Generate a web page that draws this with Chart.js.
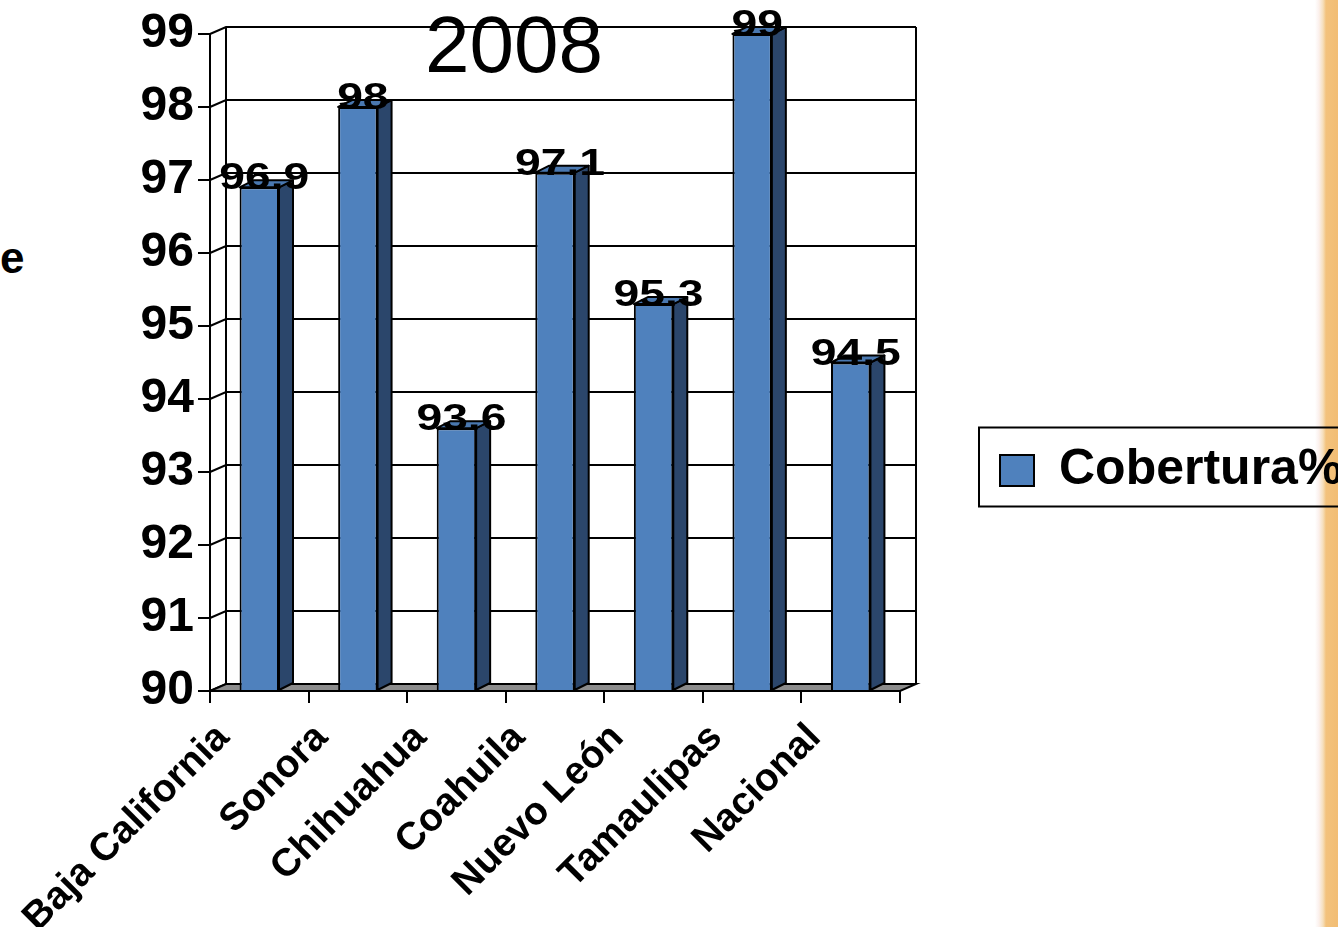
<!DOCTYPE html>
<html>
<head>
<meta charset="utf-8">
<script src="https://cdn.jsdelivr.net/npm/chart.js@4.4.0/dist/chart.umd.min.js"></script>
<style>
  html, body {
    margin: 0; padding: 0; width: 1338px; height: 927px; overflow: hidden;
    background: linear-gradient(to right, #fff 0, #fff 1315px, #fbf0ec 1319px, #f6dfbb 1323px, #f3c27c 1326px, #f2bd74 1338px);
  }
  #c { position: absolute; left: 0; top: 0; }
  #side { position: absolute; left: 0; top: 233px; line-height: 44px; font: bold 44px "Liberation Sans", Arial, sans-serif; }
</style>
</head>
<body>
<div id="side">e</div>
<canvas id="c" width="1338" height="927"></canvas>
<script>
// datos
const categories = ['Baja California', 'Sonora', 'Chihuahua', 'Coahuila', 'Nuevo León', 'Tamaulipas', 'Nacional'];
const cobertura = [96.9, 98, 93.6, 97.1, 95.3, 99, 94.5];
const seriesName = 'Cobertura%';
const chartTitle = '2008';
const yMin = 90;
const yMax = 99;

const family = '"Liberation Sans", Arial, Helvetica, sans-serif';
const WALL = { dx: 16, dy: -7 };   // profundidad de la pared/piso
const BAR = { dx: 14, dy: -7 };    // profundidad de las barras

// dibuja pared de fondo, piso, caras 3D de las barras y etiquetas
const fake3d = {
    id: 'fake3d',
    beforeDatasetsDraw(chart) {
        const { ctx, chartArea: a, scales: { y } } = chart;
        ctx.save();
        // titulo (queda detrás de la rejilla)
        ctx.font = `80px ${family}`;
        ctx.fillStyle = '#000';
        ctx.textAlign = 'center';
        ctx.textBaseline = 'alphabetic';
        ctx.fillText(chartTitle, 514, 72);

        ctx.strokeStyle = '#000';
        ctx.lineWidth = 2;
        ctx.beginPath();
        y.ticks.forEach(t => {
            const py = y.getPixelForValue(t.value);
            ctx.moveTo(a.left, py);
            ctx.lineTo(a.left + WALL.dx, py + WALL.dy);
            ctx.lineTo(a.right + WALL.dx, py + WALL.dy);
        });
        ctx.moveTo(a.left + WALL.dx, a.top + WALL.dy);
        ctx.lineTo(a.left + WALL.dx, a.bottom + WALL.dy);
        ctx.moveTo(a.right + WALL.dx, a.top + WALL.dy);
        ctx.lineTo(a.right + WALL.dx, a.bottom + WALL.dy);
        ctx.stroke();

        // piso
        ctx.beginPath();
        ctx.moveTo(a.left, a.bottom);
        ctx.lineTo(a.right, a.bottom);
        ctx.lineTo(a.right + WALL.dx, a.bottom + WALL.dy);
        ctx.lineTo(a.left + WALL.dx, a.bottom + WALL.dy);
        ctx.closePath();
        ctx.fillStyle = '#8c8c8c';
        ctx.fill();
        ctx.stroke();
        ctx.restore();
    },
    afterDatasetsDraw(chart) {
        const { ctx } = chart;
        const meta = chart.getDatasetMeta(0);
        ctx.save();
        ctx.strokeStyle = '#000';
        ctx.lineWidth = 2;
        ctx.lineJoin = 'round';
        meta.data.forEach(bar => {
            const { x, y, width, base } = bar.getProps(['x', 'y', 'width', 'base'], true);
            const l = x - width / 2, r = x + width / 2;
            // lado
            ctx.beginPath();
            ctx.moveTo(r, y);
            ctx.lineTo(r + BAR.dx, y + BAR.dy);
            ctx.lineTo(r + BAR.dx, base + BAR.dy);
            ctx.lineTo(r, base);
            ctx.closePath();
            ctx.fillStyle = '#2b466b';
            ctx.fill();
            ctx.stroke();
            // tapa
            ctx.beginPath();
            ctx.moveTo(l, y);
            ctx.lineTo(l + BAR.dx, y + BAR.dy);
            ctx.lineTo(r + BAR.dx, y + BAR.dy);
            ctx.lineTo(r, y);
            ctx.closePath();
            ctx.fillStyle = '#4a78b0';
            ctx.fill();
            ctx.stroke();
        });
        // etiquetas de valor
        ctx.font = `bold 37px ${family}`;
        ctx.fillStyle = '#000';
        ctx.textAlign = 'center';
        ctx.textBaseline = 'alphabetic';
        meta.data.forEach((bar, i) => {
            const { x, y } = bar.getProps(['x', 'y'], true);
            ctx.save();
            ctx.translate(x + 5, y + 2);
            ctx.scale(1.25, 1);
            ctx.fillText(String(cobertura[i]), 0, 0);
            ctx.restore();
        });
        ctx.restore();
    },
    afterDraw(chart) {
        // marco de la leyenda
        const hb = chart.legend.legendHitBoxes[0];
        if (!hb) return;
        const { ctx } = chart;
        ctx.save();
        ctx.strokeStyle = '#000';
        ctx.lineWidth = 2;
        const top = hb.top + hb.height / 2 - 43;
        ctx.strokeRect(hb.left - 21, top, 420, 79);
        ctx.restore();
    }
};

new Chart(document.getElementById('c'), {
    type: 'bar',
    data: {
        labels: categories,
        datasets: [{
            label: seriesName,
            data: cobertura,
            base: yMin,
            backgroundColor: '#4f81bd',
            borderColor: '#000',
            borderWidth: 2,
            barPercentage: 0.5,
            categoryPercentage: 0.8
        }]
    },
    options: {
        responsive: false,
        animation: false,
        devicePixelRatio: 1,
        layout: { padding: { left: 0, right: 0, top: 14, bottom: 0 } },
        plugins: {
            title: { display: false },
            // espaciador vacío arriba del área del gráfico
            subtitle: { display: true, text: '', padding: 0, font: { size: 10, lineHeight: '20px' } },
            tooltip: { enabled: false },
            legend: {
                position: 'right',
                maxWidth: 438,
                labels: {
                    boxWidth: 34,
                    boxHeight: 31,
                    padding: 100,
                    color: '#000',
                    font: { family, size: 50, weight: 'bold' }
                }
            }
        },
        scales: {
            x: {
                grid: { drawOnChartArea: false, drawTicks: true, tickLength: 12, color: '#000', lineWidth: 2 },
                border: { color: '#000', width: 2 },
                ticks: {
                    autoSkip: false,
                    minRotation: 45,
                    maxRotation: 45,
                    labelOffset: -36,
                    padding: 12,
                    color: '#000',
                    font: { family, size: 39, weight: 'bold' }
                },
                afterFit(scale) { scale.height = 236; }
            },
            y: {
                min: yMin,
                max: yMax,
                grid: { drawOnChartArea: false, drawTicks: true, tickLength: 12, color: '#000', lineWidth: 2 },
                border: { color: '#000', width: 2 },
                ticks: {
                    stepSize: 1,
                    padding: 4,
                    color: '#000',
                    font: { family, size: 48, weight: 'bold' }
                },
                afterFit(scale) { scale.width = 210; }
            }
        }
    },
    plugins: [fake3d]
});
</script>
</body>
</html>
